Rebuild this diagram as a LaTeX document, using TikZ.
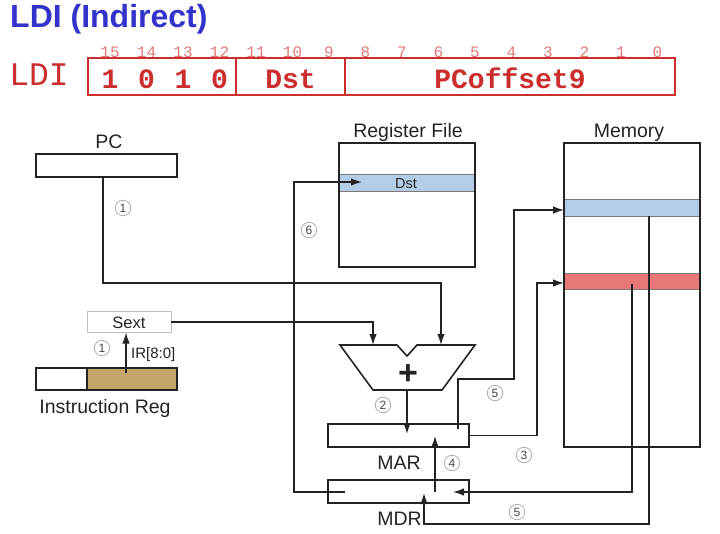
\documentclass[tikz,border=0pt]{standalone}
\usepackage{fontspec}
\setmainfont{Liberation Sans}
\setmonofont{Liberation Mono}
\usetikzlibrary{arrows.meta}
\definecolor{ttl}{RGB}{51,51,204}
\definecolor{ired}{RGB}{204,45,45}
\definecolor{ipink}{RGB}{226,120,120}
\definecolor{tanc}{RGB}{196,166,106}
\definecolor{lblue}{RGB}{179,205,232}
\definecolor{lred}{RGB}{232,120,120}
\definecolor{ln}{RGB}{35,35,35}
\newcommand\myfs[1]{\fontsize{#1}{#1}\selectfont}
\begin{document}
\begin{tikzpicture}[x=1pt,y=-1pt,
  wire/.style={draw=ln, line width=1.4pt},
  arr/.style={wire, -{Latex[length=11pt,width=7.5pt]}},
  regbox/.style={draw=ln, line width=1.6pt, minimum width=141pt, minimum height=23pt, inner sep=0pt, outer sep=0pt},
  rowbox/.style={draw=ln!60, line width=0.8pt, minimum width=136pt, inner sep=0pt, outer sep=0pt},
  lbl/.style={font=\myfs{19.5}, inner sep=0pt, text=ln, anchor=base},
  cnum/.style={circle, draw=gray!65, line width=0.8pt, minimum size=15.5pt, inner sep=0pt, font=\myfs{12}, text=ln!85},
  fld/.style={draw=ired, line width=1.7pt, minimum height=37pt, inner sep=0pt, outer sep=0pt},
  bitn/.style={anchor=base, inner sep=0pt, text=ipink, font=\ttfamily\myfs{16}},
  bitv/.style={anchor=base, inner sep=0pt, text=ired, font=\ttfamily\bfseries\myfs{28}},
]
\useasboundingbox (0,0) rectangle (720,533);

% title
\node[anchor=base west, inner sep=0pt, text=ttl, font=\bfseries\myfs{32}] (title) at (10,27) {LDI (Indirect)};

% instruction format
\node[anchor=base, inner sep=0pt, text=ired, font=\ttfamily\myfs{33}] (ldi) at (39,85) {LDI};
\node[fld, minimum width=148pt] (f1) at (162,76.5) {};
\node[fld, minimum width=109pt] (f2) at (290.5,76.5) {};
\node[fld, minimum width=330pt] (f3) at (510,76.5) {};
\foreach \i in {0,...,15} \node[bitn] (b\i) at ({110+(15-\i)*36.5},57) {\i};
\foreach \d [count=\k from 0] in {1,0,1,0} \node[bitv] (v\k) at ({110+\k*36.5},88) {\d};
\node[bitv] (dst) at (290.5,88) {Dst};
\node[bitv] (pco) at (510,88) {PCoffset9};

% PC
\node[lbl] (pclbl) at (109,148) {PC};
\node[regbox] (pc) at (106.5,165.5) {};

% Sext
\node[draw=gray!50, line width=1pt, minimum width=84pt, minimum height=21pt, inner sep=0pt, outer sep=0pt] (sext) at (129,322) {};
\node[lbl, font=\myfs{16.5}] (sextt) at (129,328) {Sext};

% Instruction register
\node[draw=ln, line width=1.6pt, fill=tanc, minimum width=90pt, minimum height=22pt, inner sep=0pt, outer sep=0pt] (irr) at (132,379) {};
\node[draw=ln, line width=1.6pt, fill=white, minimum width=51pt, minimum height=22pt, inner sep=0pt, outer sep=0pt] (irl) at (61.5,379) {};
\node[lbl] (irlbl) at (105,413) {Instruction Reg};
\node[anchor=base west, inner sep=0pt, font=\myfs{15}, text=ln] (irtxt) at (131,358) {IR[8:0]};

% Register file
\node[lbl] (rflbl) at (408,137) {Register File};
\node[draw=ln, line width=1.6pt, minimum width=136pt, minimum height=124pt, inner sep=0pt, outer sep=0pt] (rf) at (407,205) {};
\node[rowbox, fill=lblue, minimum height=17pt] (rfdst) at (407,182.5) {};
\node[anchor=base, inner sep=0pt, font=\myfs{14.5}, text=ln] (rfdstt) at (406,188) {Dst};
\draw[ln, line width=1.6pt] (rf.north west) rectangle (rf.south east);

% Memory
\node[lbl] (memlbl) at (629,137) {Memory};
\node[draw=ln, line width=1.6pt, minimum width=136pt, minimum height=304pt, inner sep=0pt, outer sep=0pt] (mem) at (632,295) {};
\node[rowbox, fill=lblue, minimum height=17pt] (memb) at (632,207.5) {};
\node[rowbox, fill=lred, minimum height=16pt] (memr) at (632,281) {};
\draw[ln, line width=1.6pt] (mem.north west) rectangle (mem.south east);

% Adder
\draw[ln, line width=1.6pt, line join=miter] (340,345) -- (397,345) -- (407,356) -- (417,345) -- (475,345) -- (442,390) -- (373,390) -- cycle;
\node[inner sep=0pt, font=\bfseries\myfs{34}, text=ln] (plus) at (408,375) {+};
\coordinate (addL) at (373,345);
\coordinate (addR) at (441,345);
\coordinate (addO) at (407,390);

% MAR / MDR
\node[regbox] (mar) at (398.5,435.5) {};
\node[regbox] (mdr) at (398.5,491.5) {};
\node[lbl] (marlbl) at (399,469) {MAR};
\node[lbl] (mdrlbl) at (399.5,525) {MDR};

% coordinates
\coordinate (pcO) at (103,177);
\coordinate (irO) at (126,373);
\coordinate (marI) at (407,434);
\coordinate (marO5) at (458,429);
\coordinate (memBi) at (564,210);
\coordinate (memRi) at (564,283);
\coordinate (memRo) at (632,284);
\coordinate (memBo) at (649,216);
\coordinate (mdrR) at (453,492);
\coordinate (mdrB) at (424,493);
\coordinate (mdrU) at (435,492);
\coordinate (marU) at (435,436);
\coordinate (mdrL) at (345,492);
\coordinate (rfI) at (362,182);

% connectors
\draw[arr] (pcO) -- (103,283) -| (addR);
\draw[arr] (sext.east) -| (addL);
\draw[arr] (irO) -- (irO |- sext.south);
\draw[arr] (addO) -- (marI);
\draw[arr] (marO5) -- (458,379) -- (514,379) |- (memBi);
\draw[arr] (mar.east) -- (537,435.5) |- (memRi);
\draw[arr] (memRo) |- (mdrR);
\draw[arr] (memBo) -- (649,524) -| (mdrB);
\draw[arr] (mdrU) -- (marU);
\draw[arr] (mdrL) -- (294,492) |- (rfI);

% step numbers
\node[cnum] (c1a) at (123,208) {1};
\node[cnum] (c1b) at (102,348) {1};
\node[cnum] (c2) at (383,405) {2};
\node[cnum] (c3) at (524,455) {3};
\node[cnum] (c4) at (452,463) {4};
\node[cnum] (c5a) at (495,393) {5};
\node[cnum] (c5b) at (517,512) {5};
\node[cnum] (c6) at (309,230) {6};
\end{tikzpicture}
\end{document}
